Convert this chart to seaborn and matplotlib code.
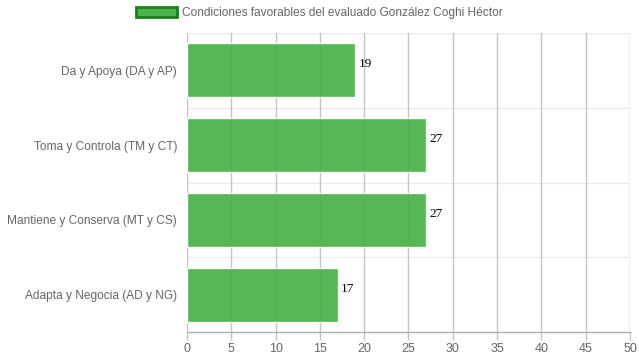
import numpy as np
import pandas as pd
import seaborn as sns
import matplotlib.pyplot as plt
from matplotlib.patches import Patch

# Données
categorias = ['Da y Apoya (DA y AP)', 'Toma y Controla (TM y CT)',
              'Mantiene y Conserva (MT y CS)', 'Adapta y Negocia (AD y NG)']
valores = [19, 27, 27, 17]
serie = 'Condiciones favorables del evaluado González Coghi Héctor'

df = pd.DataFrame({'categoria': categorias, 'valor': valores})

sns.set_theme(style='white')
plt.rcParams['font.family'] = ['Liberation Sans', 'DejaVu Sans']

fig = plt.figure(figsize=(6.39, 3.6), dpi=100)
ax = fig.add_axes([0.2926, 0.0778, 0.6933, 0.8305])

verde = '#4cb34c'
sns.barplot(data=df, x='valor', y='categoria', orient='h', color=verde,
            saturation=1, width=0.72, alpha=0.95, ax=ax, zorder=2)

ax.set_xlim(0, 50)
ax.set_xticks(np.arange(0, 51, 5))
ax.set_ylim(len(categorias) - 0.5, -0.5)
ax.set_xlabel('')
ax.set_ylabel('')

# Grilles
for x in np.arange(0, 51, 5):
    ax.axvline(x, color='#c4c4c4', lw=1, zorder=1)
for y in np.arange(-0.5, len(categorias), 1):
    ax.axhline(y, color='#ebebeb', lw=1, zorder=0.5)

for s in ax.spines.values():
    s.set_visible(False)
ax.spines['bottom'].set_visible(True)
ax.spines['bottom'].set_color('#b0b0b0')
ax.spines['bottom'].set_linewidth(1)

ax.tick_params(axis='x', colors='#666666', labelsize=9, length=6, width=1,
               direction='out', bottom=True, pad=2)
ax.tick_params(axis='x', color='#c4c4c4')
ax.tick_params(axis='y', labelcolor='#666666', labelsize=8.6, length=0, pad=7)

# Étiquettes de valeur
for i, v in enumerate(valores):
    ax.text(v + 0.35, i - 0.08, str(v), fontsize=9.5, color='black',
            family=['Liberation Serif', 'DejaVu Serif'], va='center', ha='left')

# Légende
handle = Patch(facecolor=verde, edgecolor='#1e7e1e', linewidth=2)
fig.legend([handle], [serie], loc='upper center', bbox_to_anchor=(0.5, 1.01),
           frameon=False, fontsize=8.6, labelcolor='#666666',
           handlelength=3.4, handleheight=0.9, handletextpad=0.5)

fig.savefig('out.png', dpi=100)
